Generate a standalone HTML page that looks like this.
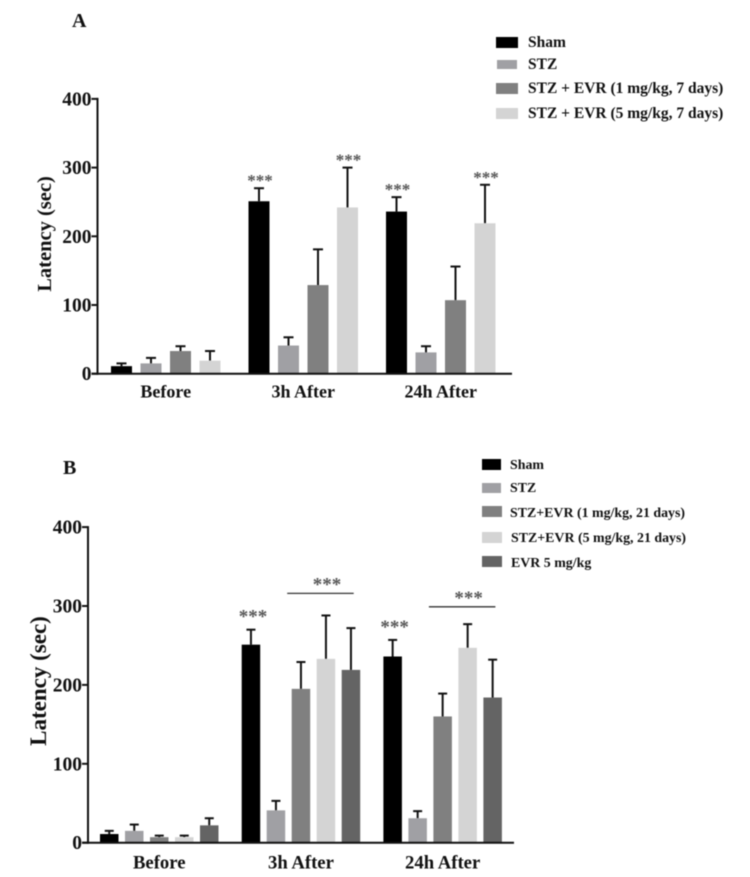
<!DOCTYPE html>
<html lang="en">
<head>
<meta charset="utf-8">
<title>Latency charts</title>
<style>
html,body{margin:0;padding:0;background:#fff;width:750px;height:877px;overflow:hidden}
svg{display:block;filter:blur(0.45px)}
text{font-family:"Liberation Serif",serif;font-weight:bold;fill:#111}
</style>
</head>
<body>
<svg id="figure" xmlns="http://www.w3.org/2000/svg" width="750" height="877" viewBox="0 0 750 877">
  <text x="72" y="27" font-size="20">A</text>
  <text x="63" y="474" font-size="20">B</text>
  <text transform="translate(51 234) rotate(-90)" text-anchor="middle" font-size="20.5">Latency (sec)</text>
  <text transform="translate(46 681) rotate(-90)" text-anchor="middle" font-size="23">Latency (sec)</text>

  <g>
    <rect x="496" y="37" width="22" height="11" fill="#000"/>
    <text x="528" y="47" font-size="15.5">Sham</text>
    <rect x="497" y="60" width="20" height="9" fill="#a0a0a4"/>
    <text x="528" y="69" font-size="15.5">STZ</text>
    <rect x="496" y="83" width="22" height="11" fill="#808080"/>
    <text x="528" y="93" font-size="15.5">STZ + EVR (1 mg/kg, 7 days)</text>
    <rect x="496" y="108" width="22" height="11" fill="#d4d4d4"/>
    <text x="528" y="118" font-size="15.5">STZ + EVR (5 mg/kg, 7 days)</text>
  </g>

  <g>
    <rect x="482" y="459" width="19" height="11" fill="#000"/>
    <text x="510" y="469" font-size="13.9">Sham</text>
    <rect x="482" y="483" width="19" height="10" fill="#a0a0a4"/>
    <text x="510" y="492" font-size="13.9">STZ</text>
    <rect x="482" y="506" width="20" height="11" fill="#808080"/>
    <text x="510" y="517" font-size="13.9">STZ+EVR (1 mg/kg, 21 days)</text>
    <rect x="482" y="532" width="20" height="11" fill="#d4d4d4"/>
    <text x="511" y="542" font-size="13.9">STZ+EVR (5 mg/kg, 21 days)</text>
    <rect x="482" y="556" width="20" height="11" fill="#646464"/>
    <text x="511" y="567" font-size="13.9">EVR 5 mg/kg</text>
  </g>
</svg>
<script>
// Shared axis data
const categories = ["Before", "3h After", "24h After"];
const yTicks = [0, 100, 200, 300, 400];

// Panel A series: bar means
const aSham = [11, 251, 236];
const aStz = [15, 41, 31];
const aEvr1 = [33, 129, 107];
const aEvr5 = [19, 242, 219];
// Panel A series: error-bar tops
const aShamTop = [15, 270, 257];
const aStzTop = [23, 53, 40];
const aEvr1Top = [40, 181, 156];
const aEvr5Top = [33, 300, 275];

// Panel B series: bar means
const bSham = [11, 251, 236];
const bStz = [15, 41, 31];
const bEvr1 = [7, 195, 160];
const bEvr5 = [7, 233, 247];
const bEvrOnly = [22, 219, 184];
// Panel B series: error-bar tops
const bShamTop = [15, 270, 257];
const bStzTop = [23, 53, 40];
const bEvr1Top = [9, 229, 189];
const bEvr5Top = [9, 288, 277];
const bEvrOnlyTop = [31, 272, 232];

const svg = document.getElementById('figure');
const NS = 'http://www.w3.org/2000/svg';

function mk(tag, attrs, text) {
  const el = document.createElementNS(NS, tag);
  for (const k in attrs) el.setAttribute(k, attrs[k]);
  if (text !== undefined) el.textContent = text;
  svg.appendChild(el);
  return el;
}

function drawPanel(p) {
  const yOf = v => p.y0 - v * p.k;
  const xOf = (g, s) => p.xStart + g * p.groupStep + s * p.barStep;

  // bars and error bars
  p.series.forEach((ser, s) => {
    ser.values.forEach((v, g) => {
      const x = xOf(g, s);
      const top = ser.tops[g];
      const cx = x + p.barW / 2;

      const stem = mk('line', {x1: cx, x2: cx, y1: yOf(v), y2: yOf(top), stroke: '#111', 'stroke-width': 2});
      
      

      const cap = mk('line', {x1: cx - p.capW / 2, x2: cx + p.capW / 2, y1: yOf(top), y2: yOf(top), stroke: '#111', 'stroke-width': 2});
      
      

      const bar = mk('rect', {x: x, y: yOf(v), width: p.barW, height: p.y0 - yOf(v), fill: ser.color});
      
      
    });
  });

  // axes
  const yAxis = mk('line', {x1: p.x0, x2: p.x0, y1: yOf(400) - 1, y2: p.y0 + 1, stroke: '#111', 'stroke-width': 2});
  
  

  const xAxis = mk('line', {x1: p.x0 - 6, x2: p.xEnd, y1: p.y0, y2: p.y0, stroke: '#111', 'stroke-width': 2});
  
  

  yTicks.forEach(t => {
    const tick = mk('line', {x1: p.x0 - 6, x2: p.x0, y1: yOf(t), y2: yOf(t), stroke: '#111', 'stroke-width': 2});
    
    

    const label = mk('text', {x: p.x0 - 6, y: yOf(t) + 6.5, 'text-anchor': 'end', 'font-size': 19.5}, t);
    
    
  });

  categories.forEach((c, g) => {
    const mid = xOf(g, (p.series.length - 1) / 2) + p.barW / 2;
    const label = mk('text', {x: mid, y: p.y0 + p.catDy, 'text-anchor': 'middle', 'font-size': p.catSize}, c);
    
    
  });

  // significance marks above individual bars
  p.stars.forEach(st => {
    const cx = xOf(st[0], st[1]) + p.barW / 2 + p.starShift;
    const y = yOf(p.series[st[1]].tops[st[0]]) - p.starGap;
    const mark = mk('text', {x: cx, y: y, 'text-anchor': 'middle', 'font-size': p.starSize, style: 'fill:#555'}, '***');
    
    
  });

  // significance brackets spanning several bars
  p.brackets.forEach(br => {
    const x1 = xOf(br[0], br[1]) - p.bracketLeft;
    const x2 = xOf(br[0], br[2]) + p.barW - p.bracketRight;
    const y = yOf(br[3]);
    const line = mk('line', {x1: x1, x2: x2, y1: y, y2: y, stroke: '#333', 'stroke-width': 1.3});
    
    

    const mark = mk('text', {x: (x1 + x2) / 2 + p.bracketStarShift, y: y - p.bracketStarGap, 'text-anchor': 'middle', 'font-size': p.starSize, style: 'fill:#555'}, '***');
    
    
  });
}

drawPanel({
  id: 'panel-a', x0: 97.5, xEnd: 512, y0: 373.7, k: 0.687,
  xStart: 111, groupStep: 137.5, barStep: 29.5, barW: 21, capW: 10,
  catDy: 24, catSize: 18, starSize: 17, starGap: 2, starShift: 1,
  series: [
    {color: '#000000', values: aSham, tops: aShamTop},
    {color: '#a0a0a4', values: aStz, tops: aStzTop},
    {color: '#808080', values: aEvr1, tops: aEvr1Top},
    {color: '#d4d4d4', values: aEvr5, tops: aEvr5Top}
  ],
  stars: [[1, 0], [1, 3], [2, 0], [2, 3]],
  brackets: []
});

drawPanel({
  id: 'panel-b', x0: 88, xEnd: 514, y0: 842.7, k: 0.789,
  xStart: 100, groupStep: 141.7, barStep: 25, barW: 18.5, capW: 9,
  catDy: 26, catSize: 18.7, starSize: 19, starGap: 7, starShift: 2,
  bracketLeft: 4.5, bracketRight: 6.5, bracketStarShift: 6.5, bracketStarGap: 3,
  series: [
    {color: '#000000', values: bSham, tops: bShamTop},
    {color: '#a0a0a4', values: bStz, tops: bStzTop},
    {color: '#808080', values: bEvr1, tops: bEvr1Top},
    {color: '#d4d4d4', values: bEvr5, tops: bEvr5Top},
    {color: '#646464', values: bEvrOnly, tops: bEvrOnlyTop}
  ],
  stars: [[1, 0], [2, 0]],
  brackets: [[1, 2, 4, 316], [2, 2, 4, 299]]
});
</script>
</body>
</html>
